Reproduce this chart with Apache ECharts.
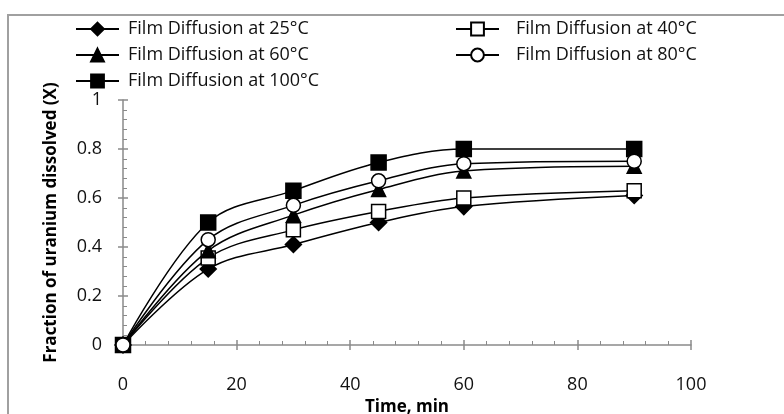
<!DOCTYPE html>
<html>
<head>
<meta charset="utf-8">
<script src="https://cdn.jsdelivr.net/npm/echarts@6/dist/echarts.min.js"></script>
<style>
  html, body { margin: 0; padding: 0; background: #fff; }
  #chart { width: 784px; height: 414px; }
</style>
</head>
<body>
<div id="chart"></div>
<script>
// time points (min) and fraction dissolved per temperature
const times = [0, 15, 30, 45, 60, 90];
const film25 = [0, 0.31, 0.41, 0.50, 0.565, 0.61];
const film40 = [0, 0.355, 0.47, 0.545, 0.60, 0.63];
const film60 = [0, 0.385, 0.53, 0.635, 0.71, 0.73];
const film80 = [0, 0.43, 0.57, 0.67, 0.74, 0.75];
const film100 = [0, 0.50, 0.63, 0.745, 0.80, 0.80];
const xTicks = [0, 20, 40, 60, 80, 100];
const yTicks = [0, 0.2, 0.4, 0.6, 0.8, 1];

const names = {
  t25: "Film Diffusion at 25°C",
  t40: "Film Diffusion at 40°C",
  t60: "Film Diffusion at 60°C",
  t80: "Film Diffusion at 80°C",
  t100: "Film Diffusion at 100°C",
};

const font = "Open Sans";
const axisGrey = "#8a8a8a";

let chart = echarts.init(document.getElementById("chart"));

function pairs(vals) {
  return times.map(function (t, i) { return [t, vals[i]]; });
}

function makeSeries(name, vals, symbol, size, filled) {
  return {
    name: name,
    type: "line",
    xAxisIndex: 0,
    yAxisIndex: 0,
    smooth: 0.35,
    symbol: symbol,
    symbolSize: size,
    showAllSymbol: true,
    lineStyle: { color: "#000", width: 1.5 },
    itemStyle: {
      color: filled ? "#000" : "#fff",
      borderColor: "#000",
      borderWidth: 1.5,
    },
    emphasis: { disabled: true },
    data: pairs(vals),
  };
}

let baseAxis = {
  axisLine: { show: true, lineStyle: { color: axisGrey, width: 1.5 } },
  splitLine: { show: false },
};

let legendText = { fontFamily: font, fontSize: 18, lineHeight: 16, color: "#111" };

let option = {
  backgroundColor: "#fff",
  animation: false,
  textStyle: { fontFamily: font },
  graphic: [
    {
      type: "rect",
      shape: { x: 8, y: 15, width: 820, height: 440 },
      style: { fill: "none", stroke: "#a0a0a0", lineWidth: 2 },
      silent: true,
    },
  ],
  grid: { left: 123, right: 93, top: 100, bottom: 69, outerBoundsMode: "none" },
  legend: [
    {
      data: [names.t25, names.t60, names.t100],
      orient: "vertical",
      left: 75,
      top: 20,
      padding: 0,
      itemWidth: 43,
      itemHeight: 16,
      itemGap: 8,
      textStyle: Object.assign({}, legendText, { padding: [0, 0, 0, 4] }),
      selectedMode: false,
    },
    {
      data: [names.t40, names.t80],
      orient: "vertical",
      left: 455,
      top: 20,
      padding: 0,
      itemWidth: 43,
      itemHeight: 16,
      itemGap: 8,
      textStyle: Object.assign({}, legendText, { padding: [0, 0, 0, 12] }),
      selectedMode: false,
    },
  ],
  xAxis: [
    Object.assign({}, baseAxis, {
      type: "value",
      min: xTicks[0],
      max: xTicks[xTicks.length - 1],
      interval: 20,
      name: "Time, min",
      nameLocation: "middle",
      nameGap: 53,
      nameTextStyle: { fontFamily: font, fontSize: 17, fontWeight: "bold", color: "#000" },
      axisTick: { show: true, inside: true, length: 5, lineStyle: { color: axisGrey, width: 1.5 } },
      minorTick: { show: true, splitNumber: 5, length: 4, lineStyle: { color: axisGrey, width: 1 } },
      axisLabel: { margin: 31, fontSize: 18, color: "#111", fontFamily: font },
    }),
    {
      type: "value",
      min: xTicks[0],
      max: xTicks[xTicks.length - 1],
      interval: 20,
      position: "bottom",
      axisLine: { show: false },
      axisTick: { show: true, inside: false, length: 5, lineStyle: { color: axisGrey, width: 1.5 } },
      axisLabel: { show: false },
      splitLine: { show: false },
    },
  ],
  yAxis: [
    Object.assign({}, baseAxis, {
      type: "value",
      min: yTicks[0],
      max: yTicks[yTicks.length - 1],
      interval: 0.2,
      name: "Fraction of uranium dissolved (X)",
      nameLocation: "middle",
      nameGap: 63,
      nameTextStyle: { fontFamily: font, fontSize: 17, fontWeight: "bold", color: "#000" },
      axisTick: { show: true, inside: true, length: 5, lineStyle: { color: axisGrey, width: 1.5 } },
      minorTick: { show: true, splitNumber: 5, length: 4, lineStyle: { color: axisGrey, width: 1 } },
      axisLabel: { margin: 21, fontSize: 18, color: "#111", fontFamily: font },
    }),
    {
      type: "value",
      min: yTicks[0],
      max: yTicks[yTicks.length - 1],
      interval: 0.2,
      position: "left",
      axisLine: { show: false },
      axisTick: { show: true, inside: false, length: 5, lineStyle: { color: axisGrey, width: 1.5 } },
      axisLabel: { show: false },
      splitLine: { show: false },
    },
  ],
  series: [
    makeSeries(names.t25, film25, "diamond", 16, true),
    makeSeries(names.t40, film40, "rect", 14, false),
    makeSeries(names.t60, film60, "triangle", 14, true),
    makeSeries(names.t100, film100, "rect", 15, true),
    makeSeries(names.t80, film80, "circle", 14, false),
  ],
};

chart.setOption(option, true);
window.addEventListener("resize", function () {
  chart.resize();
});
</script>
</body>
</html>
